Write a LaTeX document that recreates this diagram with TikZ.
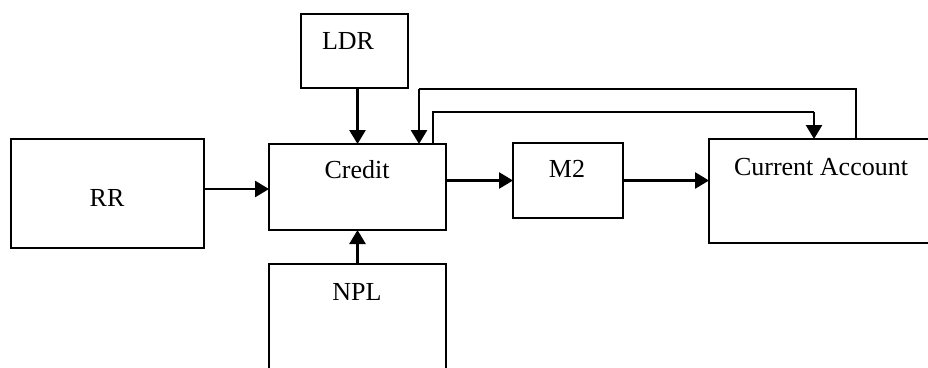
\documentclass[tikz,border=0pt]{standalone}
\usepackage{fontspec}
\setmainfont{Liberation Serif}
\usetikzlibrary{arrows.meta}
\tikzset{
  box/.style={draw, line width=2pt, rectangle, inner sep=0pt, outer sep=0pt},
  lbl/.style={anchor=base, inner sep=0pt, font=\fontsize{26}{30}\selectfont},
  conn/.style={line width=2.6pt, -{Triangle[length=14pt,width=16pt]}},
  plain/.style={line width=2.2pt}
}
\begin{document}
\begin{tikzpicture}[x=1pt,y=-1pt]
\useasboundingbox (0,0) rectangle (928,367);
% boxes
\node[box, minimum width=107pt, minimum height=74pt] (LDR) at (354.5,51) {};
\node[box, minimum width=177pt, minimum height=86pt] (Credit) at (357.5,187) {};
\node[box, minimum width=110pt, minimum height=75pt] (M2) at (568,180.5) {};
\node[box, minimum width=251pt, minimum height=104pt] (CA) at (834.5,191) {};
\node[box, minimum width=193pt, minimum height=109pt] (RR) at (107.5,193.5) {};
\node[box, minimum width=177pt, minimum height=156pt] (NPL) at (357.5,342) {};
% labels
\node[lbl] (tLDR) at (348,49) {LDR};
\node[lbl] (tCredit) at (357,178) {Credit};
\node[lbl] (tM2) at (567,177) {M2};
\node[lbl] (tCA) at (821,175) {Current Account};
\node[lbl] (tRR) at (107,206) {RR};
\node[lbl] (tNPL) at (357,300) {NPL};
% connectors
\draw[conn] (LDR.south -| Credit.north) -- (Credit.north);
\draw[conn] ([yshift=-2pt]RR.east |- Credit.west) -- ([yshift=-2pt]Credit.west);
\draw[conn] (Credit.east |- M2.west) -- (M2.west);
\draw[conn] (M2.east) -- (M2.east -| CA.west);
\draw[conn] (NPL.north) -- (Credit.south);
% feedback loops
\coordinate (k1) at (856,89);
\coordinate (k2) at (419,89);
\coordinate (k3) at (433,112);
\coordinate (k4) at (814,112);
\draw[plain] (k1 |- CA.north) -- (k1) -- (k2);
\draw[conn] (k2) -- (k2 |- Credit.north);
\draw[plain] (k3 |- Credit.north) -- (k3) -- (k4);
\draw[conn] (k4) -- (k4 |- CA.north);
\end{tikzpicture}
\end{document}
